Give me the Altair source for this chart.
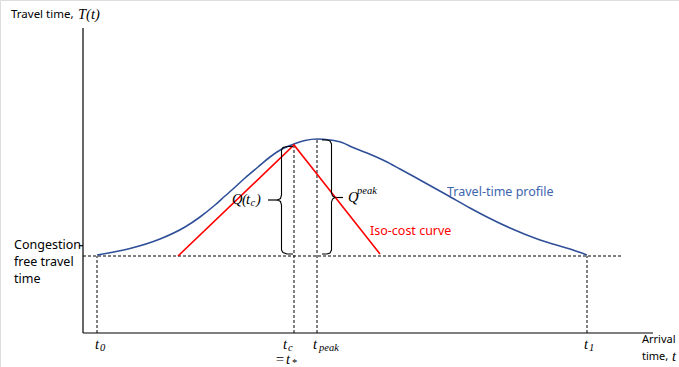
import altair as alt
import pandas as pd

# ---- coordinates: t = arrival time (origin at vertical axis), T = travel time (origin at horizontal axis)
profile_t = [14, 47, 77, 102, 117, 132, 142, 150, 162, 175, 187, 199, 211, 222, 234, 247, 259, 270, 284, 302, 317, 337, 364, 387, 404, 427, 457, 490, 504]
profile_T = [78, 84.5, 94, 106, 116, 128, 137, 144, 155, 166, 176, 184, 189, 192.5, 194, 193, 190.5, 185.5, 180, 172, 164, 153, 138, 125, 116, 105, 93, 83, 78]

iso_t = [95, 211, 297]
iso_T = [77, 188, 79]

brace_left_t = [210, 204, 200, 198.5, 198.5, 197.5, 194.5, 197.5, 198.5, 198.5, 200, 204, 210]
brace_left_T = [186.5, 186.5, 185.5, 183, 138, 134.5, 133, 131.5, 128, 83, 80.5, 79, 79]
brace_right_t = [239, 244, 247, 248.5, 248.5, 249.5, 252, 249.5, 248.5, 248.5, 247, 244, 239]
brace_right_T = [193, 193, 192, 189, 140, 137, 135.5, 134, 131, 83, 80, 79, 79]

# solid segments: axes, tick, brace connectors
solid_t1 = [0, 0, -4, 185, 252]
solid_t2 = [0, 570, 0, 194.5, 260]
solid_T1 = [0, 0, 87.3, 133, 135.5]
solid_T2 = [305, 0, 87.3, 133, 135.5]

# dashed guide lines
dash_t1 = [0, 14, 211, 234, 504]
dash_t2 = [539, 14, 211, 234, 504]
dash_T1 = [77, 0, 0, 0, 0]
dash_T2 = [77, 77, 188, 194, 77]

# text labels
sans_text = ["Congestion", "free travel", "time"]
sans_t = [-69, -69, -69]
sans_T = [88, 71, 54]

sans2_text = ["Travel time,"]
sans2_t = [-72]
sans2_T = [318]

sans3_text = ["Arrival", "time,"]
sans3_t = [559, 559]
sans3_T = [-7, -24]

serif_text = ["T(t)", "t", "t", "=", "t", "t", "t", "Q", "(", "t", ")", "Q", "t"]
serif_t = [-5, 12, 200, 192, 203, 230, 501, 149, 159, 163, 173, 265, 589]
serif_T = [318, -12, -12, -27, -27, -12, -12, 133, 133, 133, 133, 135, -24]

small_text = ["0", "c", "*", "peak", "1", "c", "peak"]
small_t = [17, 205, 208.5, 236, 506, 167.5, 274]
small_T = [-15, -15, -30, -15, -15, 130, 142]

colored_text = ["Travel-time profile", "Iso-cost curve"]
colored_t = [364, 287]
colored_T = [141, 102]
colored_col = ["#4064AE", "#FF0000"]

BLUE = "#2F4F98"
RED = "#FF0000"

xs = alt.Scale(domain=[-83, 596], nice=False, zero=False)
ys = alt.Scale(domain=[-34, 333], nice=False, zero=False)
X = alt.X("t:Q", scale=xs, axis=None)
Y = alt.Y("T:Q", scale=ys, axis=None)


def path_df(ts, Ts):
    return pd.DataFrame({"t": ts, "T": Ts, "i": range(len(ts))})


def line(df, color, width):
    return alt.Chart(df).mark_line(color=color, strokeWidth=width, interpolate="linear").encode(
        x=X, y=Y, order="i:Q"
    )


profile = alt.Chart(path_df(profile_t, profile_T)).mark_line(
    color=BLUE, strokeWidth=1.6, interpolate="monotone"
).encode(x=X, y=Y, order="i:Q")
iso = line(path_df(iso_t, iso_T), RED, 1.6)
brace_l = line(path_df(brace_left_t, brace_left_T), "black", 1.1)
brace_r = line(path_df(brace_right_t, brace_right_T), "black", 1.1)

seg_solid = pd.DataFrame({"t": solid_t1, "t2": solid_t2, "T": solid_T1, "T2": solid_T2})
solid = alt.Chart(seg_solid).mark_rule(color="black", strokeWidth=1.2).encode(
    x=X, y=Y, x2="t2:Q", y2="T2:Q"
)
seg_dash = pd.DataFrame({"t": dash_t1, "t2": dash_t2, "T": dash_T1, "T2": dash_T2})
dashed = alt.Chart(seg_dash).mark_rule(color="black", strokeWidth=1, strokeDash=[3, 2]).encode(
    x=X, y=Y, x2="t2:Q", y2="T2:Q"
)


def text_layer(texts, ts, Ts, **kw):
    df = pd.DataFrame({"label": texts, "t": ts, "T": Ts})
    return alt.Chart(df).mark_text(align="left", baseline="middle", **kw).encode(
        x=X, y=Y, text="label:N"
    )


sans = text_layer(sans_text, sans_t, sans_T, font="Noto Sans", fontSize=12.5, color="black")
sans2 = text_layer(sans2_text, sans2_t, sans2_T, font="Noto Sans", fontSize=11.5, color="black")
sans3 = text_layer(sans3_text, sans3_t, sans3_T, font="Noto Sans", fontSize=11, color="black")
serif = text_layer(serif_text, serif_t, serif_T, font="Liberation Serif", fontStyle="italic",
                   fontSize=14.5, color="black")
small = text_layer(small_text, small_t, small_T, font="Liberation Serif", fontStyle="italic",
                   fontSize=10.5, color="black")
cdf = pd.DataFrame({"label": colored_text, "t": colored_t, "T": colored_T, "c": colored_col})
colored = alt.Chart(cdf).mark_text(align="left", baseline="middle", font="Noto Sans", fontSize=12.5).encode(
    x=X, y=Y, text="label:N", color=alt.Color("c:N", scale=None)
)

chart = alt.layer(
    dashed, solid, profile, iso, brace_l, brace_r, sans, sans2, sans3, serif, small, colored
).properties(
    width=679, height=367, autosize=alt.AutoSizeParams(type="none"), padding=0
).configure_view(stroke=None).configure(background="white")

chart.save("out.html", embed_options={"renderer": "svg", "actions": False})
